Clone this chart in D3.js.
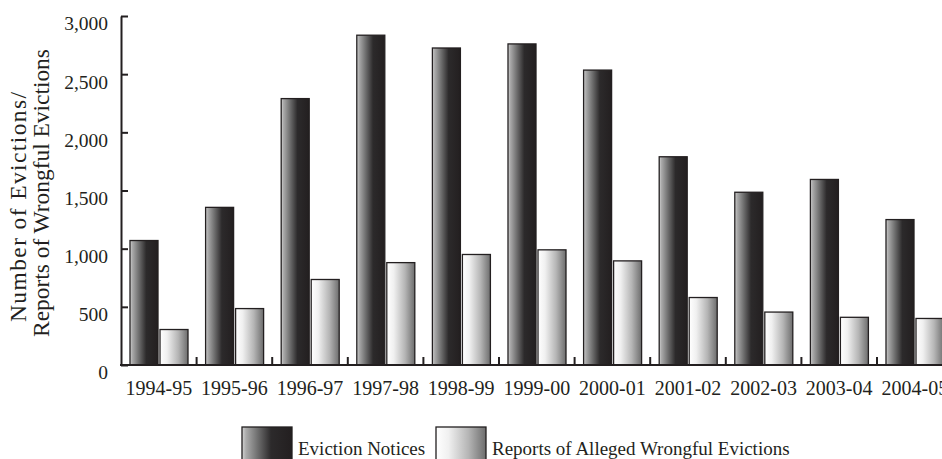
<!DOCTYPE html>
<html>
<head>
<meta charset="utf-8">
<script src="https://cdn.jsdelivr.net/npm/d3@7"></script>
<style>
  body { margin: 0; background: #fff; }
  svg text { font-family: 'Liberation Serif', 'DejaVu Serif', serif; fill: #231f20; }
</style>
</head>
<body>
<div id="chart"></div>
<script>
const categories = ['1994-95', '1995-96', '1996-97', '1997-98', '1998-99', '1999-00',
  '2000-01', '2001-02', '2002-03', '2003-04', '2004-05']
const evictionNotices = [1070, 1355, 2290, 2835, 2725, 2760, 2535, 1790, 1485, 1595, 1250]
const wrongfulReports = [305, 485, 735, 880, 950, 990, 895, 580, 455, 410, 400]
const seriesNames = ['Eviction Notices', 'Reports of Alleged Wrongful Evictions']
const yTicks = [0, 500, 1000, 1500, 2000, 2500, 3000]

const width = 942
const height = 459
const plotLeft = 121
const plotTop = 16
const plotBottom = 365
const step = 75.6

const svg = d3.select('#chart')
  .append('svg')
  .attr('width', width)
  .attr('height', height)

// gradients for the two kinds of bars
const defs = svg.append('defs')
const gradEv = defs.append('linearGradient').attr('id', 'gradEv')
gradEv.selectAll('stop')
  .data([['0%', '#d4d4d4'], ['8%', '#ababab'], ['30%', '#727272'], ['58%', '#2c2a2b'], ['100%', '#231f20']])
  .join('stop')
  .attr('offset', d => d[0])
  .attr('stop-color', d => d[1])
const gradRep = defs.append('linearGradient').attr('id', 'gradRep')
gradRep.selectAll('stop')
  .data([['0%', '#ffffff'], ['25%', '#f0f0f0'], ['65%', '#b5b5b5'], ['100%', '#6d6d6d']])
  .join('stop')
  .attr('offset', d => d[0])
  .attr('stop-color', d => d[1])

const x = d3.scaleBand()
  .domain(categories)
  .range([plotLeft, plotLeft + step * categories.length])
  .paddingInner(0)

const x1 = d3.scaleBand()
  .domain(seriesNames)
  .range([9, 67])
  .paddingInner(2 / 30)

const y = d3.scaleLinear()
  .domain([0, 3000])
  .range([plotBottom, plotTop])

const fills = ['url(#gradEv)', 'url(#gradRep)']

const rows = categories.map((c, i) => ({
  cat: c,
  values: [
    { name: seriesNames[0], value: evictionNotices[i] },
    { name: seriesNames[1], value: wrongfulReports[i] }
  ]
}))

const groups = svg.append('g')
  .selectAll('g')
  .data(rows)
  .join('g')
  .attr('transform', d => `translate(${x(d.cat)},0)`)

groups.selectAll('rect')
  .data(d => d.values)
  .join('rect')
  .attr('x', d => x1(d.name))
  .attr('y', d => y(d.value))
  .attr('width', x1.bandwidth())
  .attr('height', d => y(0) - y(d.value))
  .attr('fill', (d, i) => fills[i])
  .attr('stroke', '#231f20')
  .attr('stroke-width', 1.3)

// y axis, ticks pointing into the plot
const yAxis = svg.append('g')
  .attr('transform', `translate(${plotLeft},0)`)
  .call(d3.axisLeft(y)
    .tickValues(yTicks)
    .tickFormat(d3.format(','))
    .tickSizeInner(-7)
    .tickSizeOuter(0)
    .tickPadding(13))
yAxis.select('.domain').attr('stroke', '#231f20').attr('stroke-width', 2)
yAxis.selectAll('.tick line').attr('stroke', '#231f20').attr('stroke-width', 2)
yAxis.selectAll('.tick text')
  .attr('dy', '0.71em')
  .style('font-size', '19.5px')
  .style('font-family', "'Liberation Serif', serif")
  .attr('fill', '#231f20')

// x axis: labels centred, ticks on band boundaries
const xAxis = svg.append('g')
  .attr('transform', `translate(0,${plotBottom})`)
  .call(d3.axisBottom(x).tickSize(0).tickPadding(16))
xAxis.select('.domain').remove()
xAxis.selectAll('.tick text')
  .style('font-size', '20px')
  .style('font-family', "'Liberation Serif', serif")
  .attr('fill', '#231f20')

svg.append('line')
  .attr('x1', plotLeft - 1)
  .attr('x2', width)
  .attr('y1', plotBottom)
  .attr('y2', plotBottom)
  .attr('stroke', '#231f20')
  .attr('stroke-width', 2)

svg.append('g')
  .selectAll('line')
  .data(categories.slice(1))
  .join('line')
  .attr('x1', d => x(d))
  .attr('x2', d => x(d))
  .attr('y1', plotBottom)
  .attr('y2', plotBottom - 8)
  .attr('stroke', '#231f20')
  .attr('stroke-width', 2)

// y axis title, two lines
const titleLines = [
  { text: 'Number of Evictions/', x: 26, y: 207, len: 230 },
  { text: 'Reports of Wrongful Evictions', x: 49, y: 193, len: 288 }
]
svg.append('g')
  .selectAll('text')
  .data(titleLines)
  .join('text')
  .attr('transform', d => `translate(${d.x},${d.y}) rotate(-90)`)
  .attr('text-anchor', 'middle')
  .attr('textLength', d => d.len)
  .style('font-size', '23.5px')
  .text(d => d.text)

// legend
const legendItems = [
  { name: seriesNames[0], fill: fills[0], x: 242 },
  { name: seriesNames[1], fill: fills[1], x: 436 }
]
const legend = svg.append('g')
  .selectAll('g')
  .data(legendItems)
  .join('g')
  .attr('transform', d => `translate(${d.x},427)`)
legend.append('rect')
  .attr('width', 50)
  .attr('height', 40)
  .attr('fill', d => d.fill)
  .attr('stroke', '#231f20')
  .attr('stroke-width', 1.3)
legend.append('text')
  .attr('x', 56)
  .attr('y', 28)
  .style('font-size', '19px')
  .text(d => d.name)
</script>
</body>
</html>
